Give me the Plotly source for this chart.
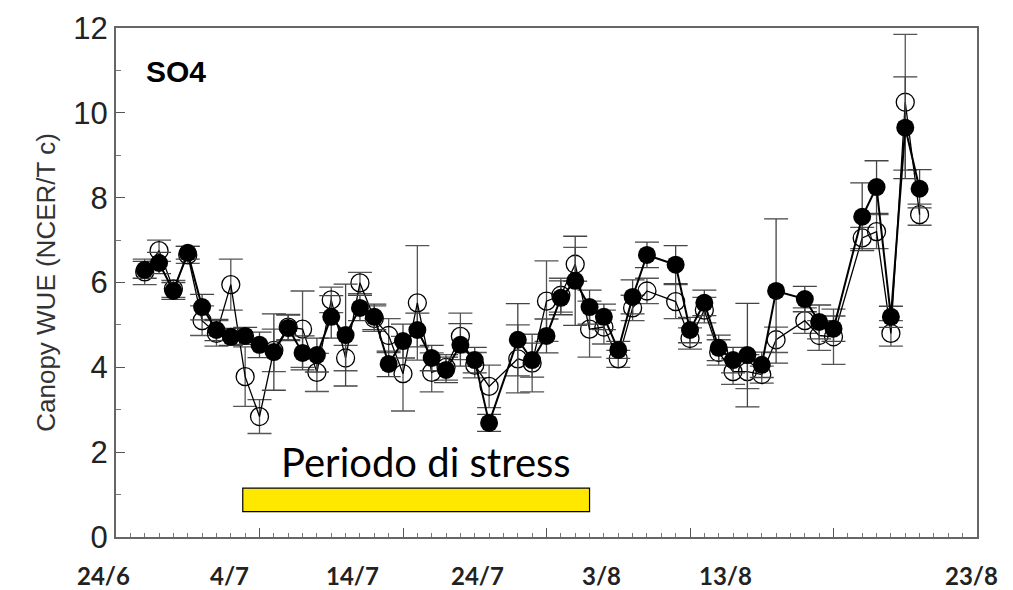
import plotly.graph_objects as go
import pandas as pd

YEAR = 2009
dates = ["26/6", "27/6", "28/6", "29/6", "30/6", "1/7", "2/7", "3/7", "4/7", "5/7",
         "6/7", "7/7", "8/7", "9/7", "10/7", "11/7", "12/7", "13/7", "14/7", "15/7",
         "16/7", "17/7", "18/7", "19/7", "20/7", "22/7", "23/7", "24/7", "25/7", "26/7",
         "27/7", "28/7", "29/7", "30/7", "31/7", "2/8", "3/8", "4/8", "5/8", "6/8",
         "7/8", "8/8", "9/8", "11/8", "12/8", "13/8", "15/8", "16/8", "17/8", "18/8", "19/8"]

wue_filled = [6.30, 6.46, 5.80, 6.70, 5.42, 4.88, 4.72, 4.74, 4.53, 4.36,
              4.93, 4.34, 4.29, 5.19, 4.76, 5.40, 5.19, 4.08, 4.62, 4.88,
              4.22, 3.94, 4.53, 4.17, 2.69, 4.65, 4.17, 4.74, 5.64, 6.04,
              5.42, 5.19, 4.41, 5.66, 6.65, 6.42, 4.88, 5.52, 4.46, 4.17,
              4.29, 4.06, 5.80, 5.61, 5.07, 4.91, 7.55, 8.25, 5.19, 9.65, 8.21]
err_filled = [0.20, 0.25, 0.20, 0.15, 0.30, 0.25, 0.20, 0.20, 0.30, 0.90,
              0.30, 0.40, 0.40, 0.50, 1.20, 0.30, 0.30, 0.30, 0.40, 0.40,
              0.30, 0.30, 0.50, 0.30, 0.20, 0.85, 0.40, 0.40, 0.40, 1.05,
              0.40, 0.30, 0.20, 0.40, 0.30, 0.45, 0.30, 0.30, 0.30, 0.30,
              1.22, 0.30, 1.70, 0.30, 0.40, 0.30, 0.80, 0.62, 0.25, 1.20, 0.45]

wue_open = [6.25, 6.75, 5.85, 6.65, 5.10, 4.80, 5.95, 3.78, 2.84, 4.40,
            4.95, 4.90, 3.88, 5.59, 4.22, 5.99, 5.15, 4.75, 3.85, 5.52,
            3.88, 4.00, 4.73, 4.05, 3.55, 4.20, 4.10, 5.56, 5.70, 6.43,
            4.90, 4.95, 4.20, 5.40, 5.80, 5.55, 4.68, 5.35, 4.35, 3.90,
            3.90, 3.83, 4.65, 5.10, 4.75, 4.72, 7.05, 7.20, 4.80, 10.25, 7.60]
err_open = [0.30, 0.25, 0.20, 0.20, 0.35, 0.30, 0.60, 0.70, 0.40, 0.50,
            0.30, 0.90, 0.45, 0.30, 0.30, 0.25, 0.30, 0.40, 0.88, 1.35,
            0.46, 0.30, 0.55, 0.30, 0.50, 0.80, 0.68, 0.95, 0.40, 0.40,
            0.66, 0.40, 0.20, 0.30, 0.30, 0.40, 0.25, 0.30, 0.30, 0.30,
            0.40, 0.20, 0.30, 0.30, 0.35, 0.65, 0.25, 0.40, 0.30, 1.60, 0.25]

tick_labels = ["24/6", "4/7", "14/7", "24/7", "3/8", "13/8", "23/8"]
# where the (overlaid) date labels sit in the original, as day offsets from 24/6
label_offsets = [-0.9, 7.9, 16.5, 25.2, 33.8, 42.5, 59.6]

stress_label = "Periodo di stress"
stress_start, stress_end = "2009-07-02 20:00", "2009-07-27 00:00"
stress_low, stress_high = 0.6, 1.15


def to_date(s):
    d, m = s.split("/")
    return pd.Timestamp(year=YEAR, month=int(m), day=int(d))


x = [to_date(s) for s in dates]
start = to_date(tick_labels[0])
end = to_date(tick_labels[-1])
span_days = (end - start).days

fig = go.Figure()

fig.add_shape(type="rect", xref="x", yref="y", x0=stress_start, x1=stress_end,
              y0=stress_low, y1=stress_high, fillcolor="#FFE800",
              line=dict(color="black", width=1.2), layer="below")

fig.add_trace(go.Scatter(
    x=x, y=wue_open, mode="lines+markers", name="open",
    line=dict(color="black", width=1.3),
    marker=dict(symbol="circle-open", size=18, color="black", line=dict(width=1.3)),
    error_y=dict(type="data", array=err_open, visible=True, color="#555555",
                 thickness=1.3, width=12),
))
fig.add_trace(go.Scatter(
    x=x, y=wue_filled, mode="lines+markers", name="filled",
    line=dict(color="black", width=2),
    marker=dict(symbol="circle", size=18, color="black"),
    error_y=dict(type="data", array=err_filled, visible=True, color="#444444",
                 thickness=1.3, width=12),
))

mid = pd.Timestamp(stress_start) + (pd.Timestamp(stress_end) - pd.Timestamp(stress_start)) / 2
fig.add_annotation(x=mid, y=stress_high, xref="x", yref="y", xanchor="center",
                   yanchor="bottom", yshift=0, xshift=10,
                   text=stress_label, showarrow=False,
                   font=dict(family="Lato, Open Sans, sans-serif", size=40, color="black"))

fig.add_annotation(x=0.033, y=0.915, xref="paper", yref="paper", xanchor="left",
                   yanchor="middle", text="<b>SO4</b>", showarrow=False,
                   font=dict(family="Liberation Sans, Arial", size=30, color="black"))

for lab, off in zip(tick_labels, label_offsets):
    fig.add_annotation(x=off / span_days, y=0, xref="paper", yref="paper",
                       xanchor="center", yanchor="top", yshift=-22,
                       text="<b>" + lab + "</b>", showarrow=False,
                       font=dict(family="Lato, Open Sans, sans-serif", size=24, color="#222222"))

fig.update_layout(
    width=1013, height=590,
    margin=dict(l=116, r=36, t=28, b=53),
    paper_bgcolor="white", plot_bgcolor="white",
    showlegend=False,
    xaxis=dict(
        type="date", range=[start, end],
        tick0=start, dtick=10 * 86400000,
        ticks="inside", ticklen=9, tickwidth=1, tickcolor="#555555",
        showticklabels=False,
        minor=dict(dtick=86400000, ticks="inside", ticklen=4, tickcolor="#777777", tickwidth=1),
        showgrid=False, zeroline=False,
        showline=True, linecolor="#666666", linewidth=2, mirror=True,
    ),
    yaxis=dict(
        range=[0, 12], dtick=2, tick0=0,
        ticks="inside", ticklen=9, tickwidth=1, tickcolor="#555555",
        minor=dict(dtick=1, ticks="inside", ticklen=5, tickcolor="#777777", tickwidth=1),
        showgrid=False, zeroline=False,
        showline=True, linecolor="#666666", linewidth=2, mirror=True,
        tickfont=dict(family="Liberation Sans, Arial", size=31, color="#222222"),
        title=dict(text="Canopy WUE (NCER/T c)", standoff=10,
                   font=dict(family="Liberation Sans, Arial", size=26, color="#333333")),
    ),
)

fig.write_html("out.html")
